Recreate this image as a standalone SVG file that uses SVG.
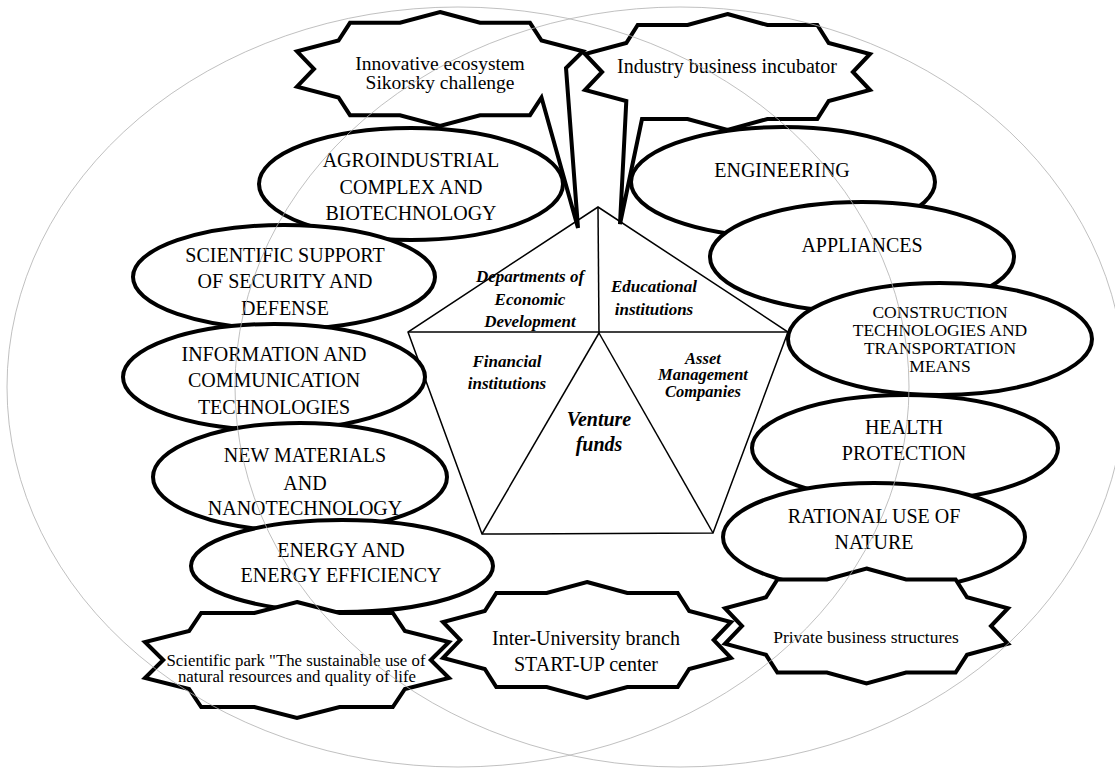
<svg xmlns="http://www.w3.org/2000/svg" width="1115" height="769" viewBox="0 0 1115 769">
<style>
.node{fill:#fff;stroke:#000;stroke-width:4;stroke-linejoin:miter}
.pent{fill:#fff;stroke:#000;stroke-width:1.5}
.bg{fill:none;stroke:#b0b0b0;stroke-width:0.8}
.t{font-family:"Liberation Serif","Times New Roman",serif;font-size:20px;text-anchor:middle;fill:#000}
.s{font-size:17.5px}
.c{font-size:16.8px}
.k{font-size:19.5px}
.p{font-family:"Liberation Serif","Times New Roman",serif;font-weight:bold;font-style:italic;font-size:17px;text-anchor:middle;fill:#000}
.a{font-size:16.5px}
.v{font-size:20px}
</style>
<rect width="1115" height="769" fill="#fff"/>

<g id="pentagon">
<polygon class="pent" points="598,207 788,332 713,533 482,534 408,332"/>
<line class="pent" x1="598" y1="207" x2="599" y2="333"/>
<line class="pent" x1="408" y1="332" x2="788" y2="332"/>
<line class="pent" x1="599" y1="333" x2="482" y2="534"/>
<line class="pent" x1="599" y1="333" x2="713" y2="533"/>
<text class="p" x="530" y="282">Departments of</text>
<text class="p" x="530" y="305">Economic</text>
<text class="p" x="530" y="327">Development</text>
<text class="p" x="654" y="292">Educational</text>
<text class="p" x="654" y="315">institutions</text>
<text class="p" x="507" y="367">Financial</text>
<text class="p" x="507" y="389">institutions</text>
<text class="p a" x="703" y="363.5">Asset</text>
<text class="p a" x="703" y="380">Management</text>
<text class="p a" x="703" y="396.5">Companies</text>
<text class="p v" x="599" y="426">Venture</text>
<text class="p v" x="599" y="451">funds</text>
</g>

<g id="agro">
<ellipse class="node" cx="411" cy="184" rx="152" ry="56"/>
<text class="t" x="411" y="167">AGROINDUSTRIAL</text>
<text class="t" x="411" y="194">COMPLEX AND</text>
<text class="t" x="411" y="220">BIOTECHNOLOGY</text>
</g>
<g id="security">
<ellipse class="node" cx="284" cy="277" rx="151" ry="52"/>
<text class="t" x="285" y="262">SCIENTIFIC SUPPORT</text>
<text class="t" x="285" y="288">OF SECURITY AND</text>
<text class="t" x="285" y="315">DEFENSE</text>
</g>
<g id="ict">
<ellipse class="node" cx="274" cy="377" rx="151" ry="53"/>
<text class="t" x="274" y="361">INFORMATION AND</text>
<text class="t" x="274" y="387">COMMUNICATION</text>
<text class="t" x="274" y="414">TECHNOLOGIES</text>
</g>
<g id="materials">
<ellipse class="node" cx="300" cy="477" rx="147" ry="54"/>
<text class="t" x="305" y="462">NEW MATERIALS</text>
<text class="t" x="305" y="490">AND</text>
<text class="t" x="305" y="515">NANOTECHNOLOGY</text>
</g>
<g id="energy">
<ellipse class="node" cx="342" cy="566" rx="151" ry="46"/>
<text class="t" x="341" y="557">ENERGY AND</text>
<text class="t" x="341" y="582">ENERGY EFFICIENCY</text>
</g>

<g id="engineering">
<ellipse class="node" cx="783" cy="182" rx="152" ry="55"/>
<text class="t" x="782" y="177">ENGINEERING</text>
</g>
<g id="appliances">
<ellipse class="node" cx="862" cy="257" rx="152" ry="55"/>
<text class="t" x="862" y="252">APPLIANCES</text>
</g>
<g id="construction">
<ellipse class="node" cx="940" cy="339" rx="152" ry="56"/>
<text class="t s" x="940" y="318">CONSTRUCTION</text>
<text class="t s" x="940" y="336">TECHNOLOGIES AND</text>
<text class="t s" x="940" y="354">TRANSPORTATION</text>
<text class="t s" x="940" y="372">MEANS</text>
</g>
<g id="health">
<ellipse class="node" cx="905" cy="448" rx="153" ry="53"/>
<text class="t" x="904" y="434">HEALTH</text>
<text class="t" x="904" y="460">PROTECTION</text>
</g>
<g id="nature">
<ellipse class="node" cx="874" cy="537" rx="151" ry="54"/>
<text class="t" x="874" y="523">RATIONAL USE OF</text>
<text class="t" x="874" y="549">NATURE</text>
</g>

<g id="scipark">
<polygon class="node" points="297,602 339.6,613 392.8,613 404.9,631 449,642 430.8,660 449,678 404.9,689 392.8,707 339.6,707 297,718 254.4,707 201.2,707 189.1,689 145,678 163.2,660 145,642 189.1,631 201.2,613 254.4,613"/>
<text class="t c" x="296" y="665.5">Scientific park "The sustainable use of</text>
<text class="t c" x="297" y="682">natural resources and quality of life</text>
</g>
<g id="startup">
<polygon class="node" points="587,582 627.3,593 677.7,593 689.2,611 731,622 713.7,640 731,658 689.2,669 677.7,687 627.3,687 587,698 546.7,687 496.3,687 484.8,669 443,658 460.3,640 443,622 484.8,611 496.3,593 546.7,593"/>
<text class="t" x="586" y="645">Inter-University branch</text>
<text class="t" x="586" y="671">START-UP center</text>
</g>
<g id="private">
<polygon class="node" points="866.5,568.5 906.1,579.4 955.6,579.4 967,597.3 1008,608.2 991,626 1008,643.8 967,654.8 955.6,672.6 906.1,672.6 866.5,683.5 826.9,672.6 777.4,672.6 766,654.8 725,643.8 742,626 725,608.2 766,597.3 777.4,579.4 826.9,579.4"/>
<text class="t s" x="866" y="643">Private business structures</text>
</g>

<g id="sikorsky">
<polygon class="node" points="440,12 480,22.8 530,22.8 541.5,40.5 583,51.3 566,68 578,228 541.5,97.5 530,115.2 480,115.2 440,126 400,115.2 350,115.2 338.5,97.5 297,86.7 314,69 297,51.3 338.5,40.5 350,22.8 400,22.8"/>
<text class="t k" x="440" y="69.5">Innovative ecosystem</text>
<text class="t k" x="440" y="88.5">Sikorsky challenge</text>
</g>
<g id="incubator">
<polygon class="node" points="727.5,14 767.4,25 817.3,25 828.7,43 870,54 852.9,72 870,90 828.7,101 817.3,119 767.4,119 727.5,130 687.6,119 642,119 620,224 626.3,101 585,90 602.1,72 585,54 626.3,43 637.7,25 687.6,25"/>
<text class="t" x="727" y="73">Industry business incubator</text>
</g>

<g id="background">
<ellipse class="bg" cx="458" cy="387" rx="451" ry="380"/>
<ellipse class="bg" cx="680" cy="387" rx="445" ry="380"/>
</g>
</svg>
